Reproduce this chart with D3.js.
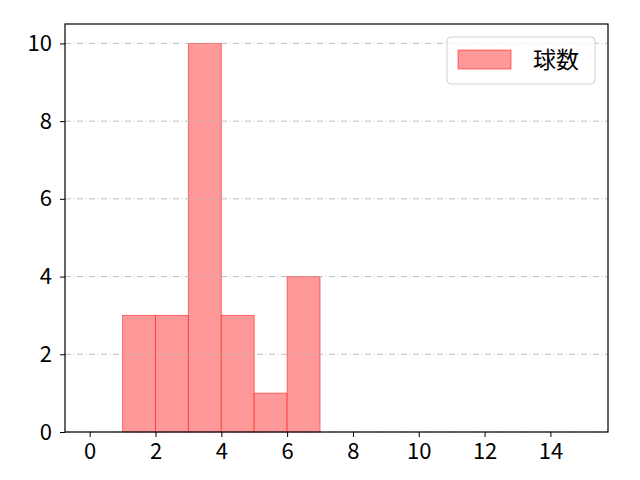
<!DOCTYPE html>
<html>
<head>
<meta charset="utf-8">
<script src="https://cdn.jsdelivr.net/npm/d3@7"></script>
<style>
  body { margin: 0; background: #fff; }
  text { font-family: "Noto Sans CJK JP", "Noto Sans", sans-serif; }
</style>
</head>
<body>
<svg id="chart"></svg>
<script>
var width = 640,
    height = 480,
    margin = {top: 24, right: 32, bottom: 48, left: 65};

// histogram bins (left edge, right edge) and counts
var binStarts = [1, 2, 3, 4, 5, 6];
var binEnds = [2, 3, 4, 5, 6, 7];
var counts = [3, 3, 10, 3, 1, 4];
var xTicks = [0, 2, 4, 6, 8, 10, 12, 14];
var yTicks = [0, 2, 4, 6, 8, 10];
var seriesName = '球数';

var svg = d3.select('svg#chart')
    .attr('width', width)
    .attr('height', height);

var x = d3.scaleLinear()
    .domain([-0.75, 15.75])
    .range([margin.left, width - margin.right]);

var y = d3.scaleLinear()
    .domain([0, 10.5])
    .range([height - margin.bottom, margin.top]);

var bins = binStarts.map(function (s, i) {
    return {x0: s, x1: binEnds[i], n: counts[i]};
});

svg.append('g').selectAll('rect')
    .data(bins)
    .enter().append('rect')
    .attr('x', function (d) { return x(d.x0); })
    .attr('y', function (d) { return y(d.n); })
    .attr('width', function (d) { return x(d.x1) - x(d.x0); })
    .attr('height', function (d) { return y(0) - y(d.n); })
    .attr('fill', 'rgb(255,153,153)')
    .attr('stroke', 'rgba(255,0,0,0.5)')
    .attr('stroke-width', 1);

// horizontal grid over the bars
svg.append('g').selectAll('line')
    .data(yTicks)
    .enter().append('line')
    .attr('x1', margin.left)
    .attr('x2', width - margin.right)
    .attr('y1', function (d) { return y(d); })
    .attr('y2', function (d) { return y(d); })
    .attr('stroke', '#b0b0b0')
    .attr('stroke-width', 0.8)
    .attr('stroke-dasharray', '6,2.5,1,2.5');

var xAxis = svg.append('g')
    .attr('transform', 'translate(0,' + (height - margin.bottom) + ')')
    .call(d3.axisBottom(x).tickValues(xTicks).tickSize(5).tickPadding(6).tickFormat(d3.format('d')));

var yAxis = svg.append('g')
    .attr('transform', 'translate(' + margin.left + ',0)')
    .call(d3.axisLeft(y).tickValues(yTicks).tickSize(5).tickPadding(8).tickFormat(d3.format('d')));

[xAxis, yAxis].forEach(function (a) {
    a.attr('font-size', 22).attr('font-family', null);
    a.select('.domain').remove();
    a.selectAll('.tick line').attr('stroke', '#000').attr('stroke-width', 1);
    a.selectAll('.tick text').attr('fill', '#000');
});

// frame
svg.append('rect')
    .attr('x', margin.left)
    .attr('y', margin.top)
    .attr('width', width - margin.left - margin.right)
    .attr('height', height - margin.top - margin.bottom)
    .attr('fill', 'none')
    .attr('stroke', '#000')
    .attr('stroke-width', 1.2);

// legend
var legend = svg.append('g')
    .attr('transform', 'translate(447,37)');

legend.append('rect')
    .attr('width', 148)
    .attr('height', 47)
    .attr('rx', 4)
    .attr('fill', 'rgba(255,255,255,0.8)')
    .attr('stroke', '#d0d0d0');

legend.append('rect')
    .attr('x', 11)
    .attr('y', 13)
    .attr('width', 53)
    .attr('height', 19)
    .attr('fill', 'rgb(255,153,153)')
    .attr('stroke', 'rgba(255,0,0,0.5)');

legend.append('text')
    .attr('x', 86)
    .attr('y', 31)
    .attr('font-size', 23)
    .attr('fill', '#000')
    .text(seriesName);
</script>
</body>
</html>
